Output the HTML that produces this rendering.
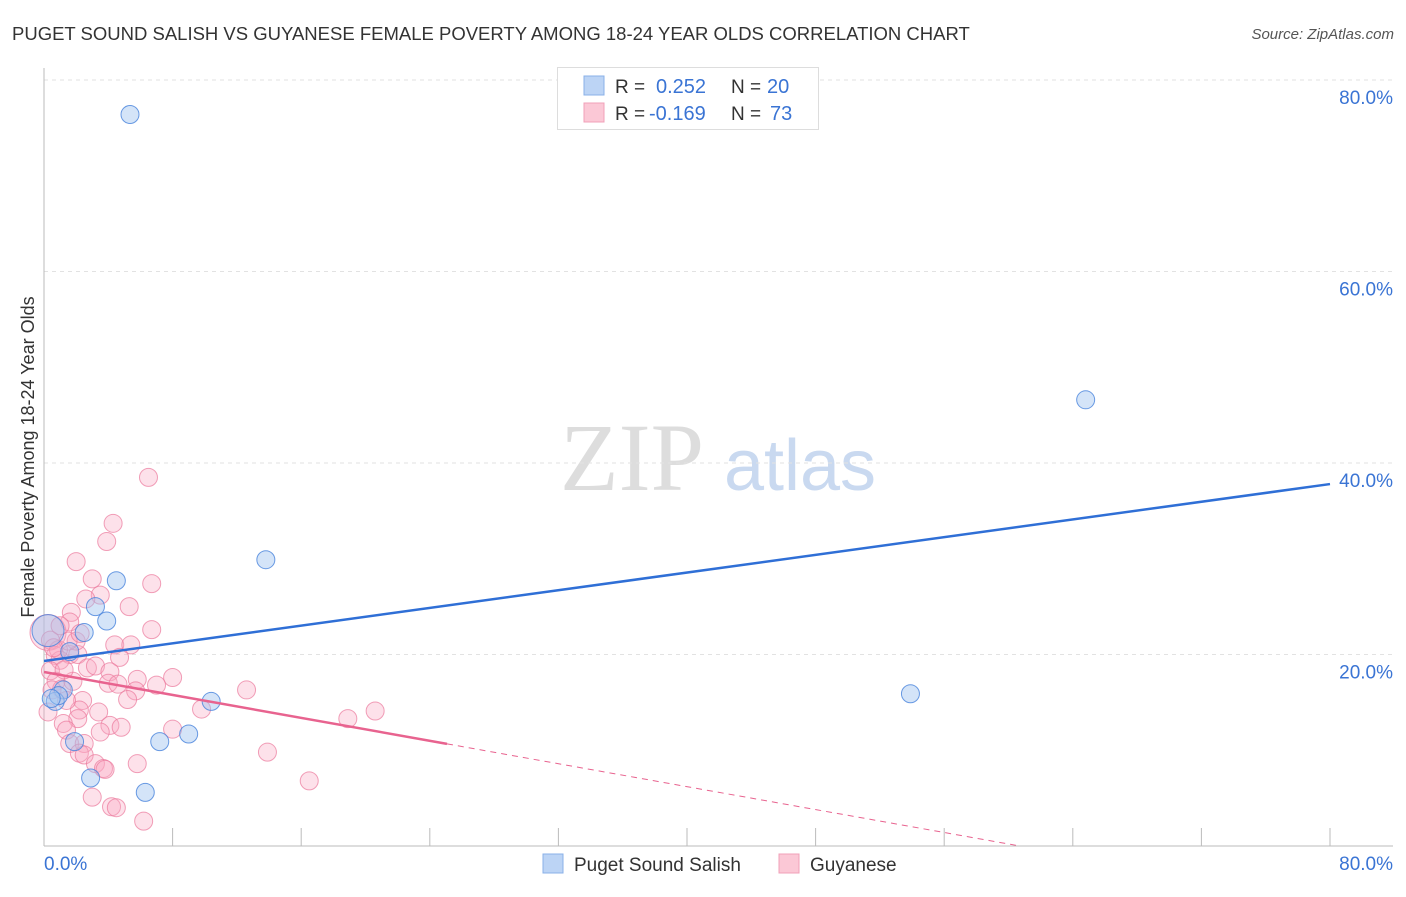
<!DOCTYPE html>
<html><head><meta charset="utf-8"><style>
body{margin:0;background:#fff;font-family:"Liberation Sans",sans-serif}
svg text{font-family:"Liberation Sans",sans-serif}
</style></head><body>
<svg id="c" width="1406" height="892" xmlns="http://www.w3.org/2000/svg">
<text x="12" y="40" font-size="18.5" fill="#333">PUGET SOUND SALISH VS GUYANESE FEMALE POVERTY AMONG 18-24 YEAR OLDS CORRELATION CHART</text>
<text x="1394" y="39" font-size="15" fill="#555" text-anchor="end" font-style="italic">Source: ZipAtlas.com</text>
<text x="34" y="457" font-size="18" fill="#333" text-anchor="middle" transform="rotate(-90 34 457)">Female Poverty Among 18-24 Year Olds</text>
<g>
<text x="632" y="490" font-size="96" fill="#ddd" text-anchor="middle" font-family="Liberation Serif,serif" style="font-family:'Liberation Serif',serif">ZIP</text>
<text x="800" y="490" font-size="72" fill="#c9d9f0" text-anchor="middle">atlas</text>
</g>
<g id="grid"></g><g id="axes"></g><g id="pts"></g><g id="lines"></g>
<g>
<rect x="557.5" y="67.5" width="261" height="62" fill="#fff" stroke="#ddd"/>
<rect x="584" y="76" width="20" height="19" fill="#bcd4f5" stroke="#8ab0e8"/>
<rect x="584" y="103" width="20" height="19" fill="#fbc8d6" stroke="#f0a0b8"/>
<text x="615" y="93" font-size="19" fill="#333">R = </text><text x="656" y="93" font-size="20" fill="#3a74d4">0.252</text>
<text x="731" y="93" font-size="19" fill="#333">N = </text><text x="767" y="93" font-size="20" fill="#3a74d4">20</text>
<text x="615" y="120" font-size="19" fill="#333">R = </text><text x="649" y="120" font-size="20" fill="#3a74d4">-0.169</text>
<text x="731" y="120" font-size="19" fill="#333">N = </text><text x="770" y="120" font-size="20" fill="#3a74d4">73</text>
</g>
<g>
<rect x="543" y="854" width="20" height="19" fill="#bcd4f5" stroke="#8ab0e8"/>
<text x="574" y="871" font-size="19" fill="#333">Puget Sound Salish</text>
<rect x="779" y="854" width="20" height="19" fill="#fbc8d6" stroke="#f0a0b8"/>
<text x="810" y="871" font-size="19" fill="#333">Guyanese</text>
</g>
</svg>
<script>
const yTicks=[20,40,60,80];
const xTickLabels=["0.0%","80.0%"];
const blueX=[5.35,64.8,13.8,4.5,3.2,3.9,2.5,0.25,1.6,53.9,1.2,0.7,10.4,7.2,9.0,1.9,2.9,6.3,0.9,0.45];
const blueY=[76.4,46.6,29.9,27.7,25.0,23.5,22.3,22.5,20.3,15.9,16.3,15.1,15.1,10.9,11.7,10.9,7.1,5.6,15.7,15.4];
const pinkX=[6.5,4.3,3.9,2.0,3.0,6.7,3.5,2.6,5.3,1.7,1.6,6.7,4.4,5.4,4.7,1.6,2.1,2.7,3.2,4.1,4.0,4.6,5.8,8.0,7.0,5.7,5.2,12.6,9.8,2.4,2.2,3.4,2.1,20.6,18.9,1.2,1.4,4.1,4.8,3.5,8.0,1.6,2.5,2.2,2.5,13.9,3.2,3.7,3.8,5.8,16.5,3.0,4.2,4.5,6.2,
0.25,0.4,0.7,1.0,0.4,0.75,1.1,0.5,1.4,0.25,1.8,0.9,1.25,2.0,1.5,0.6,1.0,2.25];
const pinkY=[38.5,33.7,31.8,29.7,27.9,27.4,26.2,25.8,25.0,24.4,23.4,22.6,21.0,21.0,19.7,20.0,20.0,18.6,18.8,18.2,17.0,16.9,17.4,17.6,16.8,16.2,15.3,16.3,14.3,15.2,14.2,14.0,13.3,14.1,13.3,12.8,12.1,12.6,12.4,11.9,12.2,10.7,10.7,9.7,9.5,9.8,8.6,8.1,8.0,8.6,6.8,5.1,4.1,4.0,2.6,
22.3,21.5,19.9,19.4,18.3,17.2,16.4,16.3,15.2,14.0,17.2,20.5,18.4,21.4,21.4,20.7,23.0,22.2];
const bigBlue=[7];const bigPink=[55];
const blueFit=[19.32,37.8];
const pinkFit=[18.17,-0.2993];
const X=v=>44+v/80*1286, Y=v=>846-v/20*191.5;
const NS="http://www.w3.org/2000/svg";
function mk(t,a,p){const e=document.createElementNS(NS,t);for(const k in a)e.setAttribute(k,a[k]);p.appendChild(e);return e;}
const grid=document.getElementById('grid'),axes=document.getElementById('axes'),pts=document.getElementById('pts'),lines=document.getElementById('lines');
yTicks.forEach(t=>{
 const l=mk('line',{x1:44,x2:1393,y1:Y(t),y2:Y(t),stroke:'#e2e2e2','stroke-dasharray':'4,4'},grid);
 
 
 const tx=mk('text',{x:1393,y:Y(t)+24,'font-size':19,fill:'#3a74d4','text-anchor':'end'},grid);tx.textContent=t.toFixed(1)+'%';
 
 
});
const ya=mk('line',{x1:44,x2:44,y1:68,y2:846,stroke:'#bbb'},axes);


const xa=mk('line',{x1:44,x2:1393,y1:846,y2:846,stroke:'#bbb'},axes);


for(let i=1;i<=10;i++){const t=mk('line',{x1:X(i*8),x2:X(i*8),y1:828,y2:846,stroke:'#bbb'},axes);
 
 }
[[0,44,'start'],[80,1393,'end']].forEach((d,i)=>{const t=mk('text',{x:d[1],y:870,'font-size':19,fill:'#3a74d4','text-anchor':d[2]},axes);t.textContent=xTickLabels[i];
 
 });
pinkX.forEach((x,i)=>{const c=mk('circle',{cx:X(x),cy:Y(pinkY[i]),r:bigPink.includes(i)?18:9,fill:'rgba(248,170,195,0.35)',stroke:'rgba(235,120,155,0.7)','stroke-width':1},pts);
 
 });
blueX.forEach((x,i)=>{const c=mk('circle',{cx:X(x),cy:Y(blueY[i]),r:bigBlue.includes(i)?16:9,fill:'rgba(160,195,240,0.45)',stroke:'rgba(70,130,220,0.8)','stroke-width':1},pts);
 
 });
const bl=mk('line',{x1:X(0),y1:Y(blueFit[0]),x2:X(80),y2:Y(blueFit[1]),stroke:'#2f6fd6','stroke-width':2.5},lines);


const pe=25.07, pz=-pinkFit[0]/pinkFit[1];
const pl=mk('line',{x1:X(0),y1:Y(pinkFit[0]),x2:X(pe),y2:Y(pinkFit[0]+pinkFit[1]*pe),stroke:'#e8638f','stroke-width':2.5},lines);


const pd=mk('line',{x1:X(pe),y1:Y(pinkFit[0]+pinkFit[1]*pe),x2:X(pz),y2:Y(0),stroke:'#e8638f','stroke-width':1,'stroke-dasharray':'6,5'},lines);


</script>
</body></html>
